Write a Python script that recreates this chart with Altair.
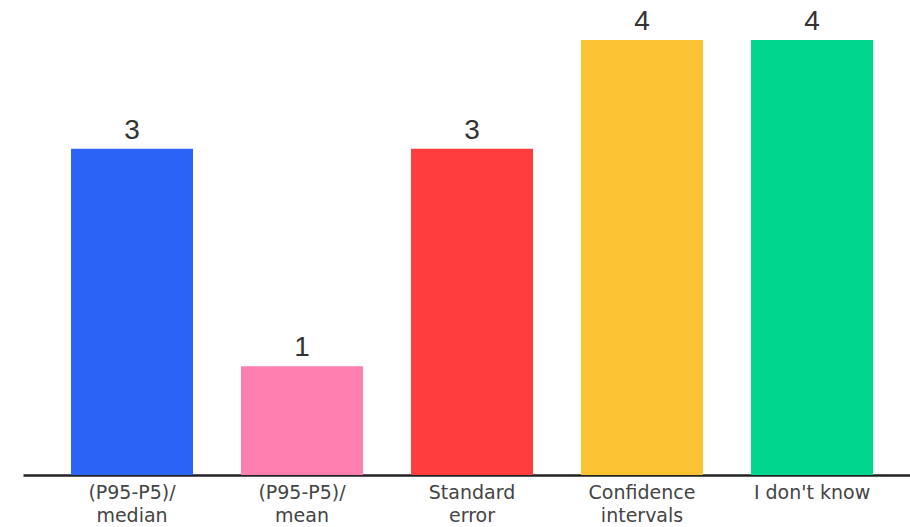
import altair as alt
import pandas as pd

categories = ["(P95-P5)/\nmedian", "(P95-P5)/\nmean", "Standard\nerror", "Confidence\nintervals", "I don't know"]
values = [3, 1, 3, 4, 4]
colors = ["#2B63F6", "#FF7EB0", "#FF3D3D", "#FBC233", "#00D68E"]

df = pd.DataFrame({"cat": categories, "val": values, "color": colors})

x = alt.X("cat:N", sort=categories,
          scale=alt.Scale(paddingInner=0.2824, paddingOuter=0.25, align=0.565),
          axis=alt.Axis(title=None, ticks=False, domain=True, domainColor="#222222",
                        domainWidth=2.5, labelAngle=0, labelFont="DejaVu Sans",
                        labelFontSize=19, labelColor="#444444", labelPadding=8,
                        labelLineHeight=23, labelExpr="split(datum.label, '\\n')"))
y = alt.Y("val:Q", scale=alt.Scale(domain=[0, 4.368], nice=False, zero=True), axis=None)

bars = alt.Chart(df).mark_bar().encode(x=x, y=y, color=alt.Color("color:N", scale=None))
labels = alt.Chart(df).mark_text(baseline="alphabetic", dy=-10, font="Liberation Sans",
                                 fontSize=28, color="#333333").encode(x=x, y=y, text="val:Q")

chart = (bars + labels).properties(
    width=887, height=475,
    padding={"left": 23, "top": 0, "right": 0, "bottom": 52},
    autosize=alt.AutoSizeParams(type="none"),
    background="white",
).configure_view(strokeWidth=0, stroke=None)

chart.save("out.html", embed_options={"renderer": "svg", "actions": False})
